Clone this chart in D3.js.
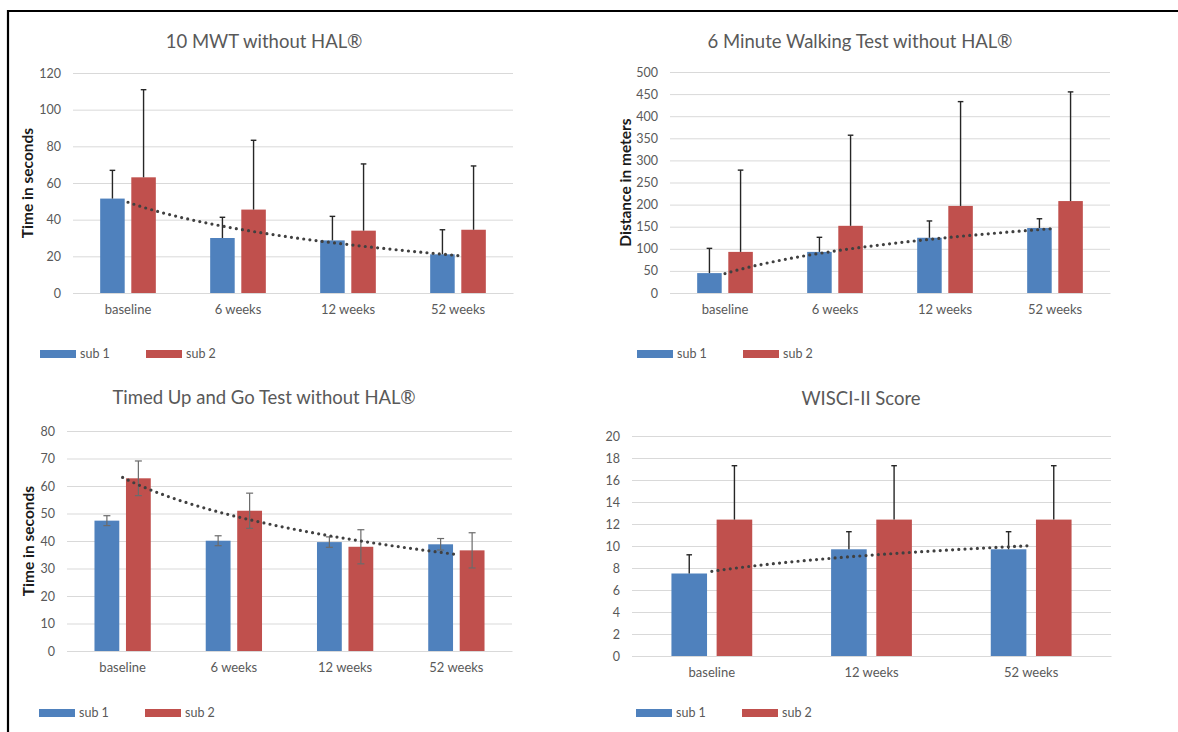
<!DOCTYPE html>
<html>
<head>
<meta charset="utf-8">
<script src="https://cdn.jsdelivr.net/npm/d3@7"></script>
<style>
  body { margin: 0; background: #fff; }
  svg text { font-family: Lato, "Noto Sans", sans-serif; }
</style>
</head>
<body>
<svg id="chart" width="1178" height="732"></svg>
<script>
// series names and colours
const subjects = ["sub 1", "sub 2"];
const colors = ["#4f81bd", "#c0504d"];

// 10 MWT without HAL
const mwtCategories = ["baseline", "6 weeks", "12 weeks", "52 weeks"];
const mwtSub1 = [51.5, 30, 28.7, 21.1];
const mwtSub2 = [63.1, 45.5, 34, 34.5];
const mwtSub1Err = [15.4, 11.3, 13.1, 13.4];
const mwtSub2Err = [47.8, 37.8, 36.4, 34.8];

// 6 minute walking test without HAL
const walkCategories = ["baseline", "6 weeks", "12 weeks", "52 weeks"];
const walkSub1 = [45, 93, 125, 147];
const walkSub2 = [93, 152, 197, 208];
const walkSub1Err = [56, 33, 38, 21];
const walkSub2Err = [185, 205, 236, 247];

// timed up and go without HAL
const tugCategories = ["baseline", "6 weeks", "12 weeks", "52 weeks"];
const tugSub1 = [47.4, 40.1, 39.6, 38.8];
const tugSub2 = [62.8, 51.0, 37.9, 36.6];
const tugSub1Err = [1.8, 1.8, 1.9, 2.1];
const tugSub2Err = [6.3, 6.4, 6.2, 6.4];

// WISCI-II score
const wisciCategories = ["baseline", "12 weeks", "52 weeks"];
const wisciSub1 = [7.5, 9.7, 9.7];
const wisciSub2 = [12.4, 12.4, 12.4];
const wisciSub1Err = [1.7, 1.6, 1.6];
const wisciSub2Err = [4.9, 4.9, 4.9];

let svg = d3.select("#chart");

// frame of the figure
svg.append("path")
  .attr("d", "M8,732 L8,11 L1178,11")
  .attr("fill", "none")
  .attr("stroke", "#000")
  .attr("stroke-width", 2.2);

// least squares fit y = a + b ln(x), like the Excel log trendline
function logFit(values) {
  let xs = values.map((v, i) => Math.log(i + 1));
  let mx = d3.mean(xs), my = d3.mean(values);
  let b = d3.sum(xs, (l, i) => (l - mx) * (values[i] - my)) / d3.sum(xs, l => (l - mx) * (l - mx));
  let a = my - b * mx;
  return t => a + b * Math.log(t);
}

function drawPanel(opt) {
  let g = svg.append("g");

  let x = d3.scaleBand().domain(opt.categories).range([opt.left, opt.right]);
  let y = d3.scaleLinear().domain([0, opt.max]).range([opt.bottom, opt.top]);
  let bw = x.bandwidth();
  let inner = d3.scaleBand().domain(subjects)
    .range([-0.253 * bw, 0.253 * bw]).paddingInner(0.212);

  // title
  g.append("text")
    .attr("x", opt.titleX)
    .attr("y", opt.titleY)
    .attr("text-anchor", "middle")
    .attr("font-size", 18.5)
    .attr("fill", "#595959")
    .text(opt.title);

  // gridlines and tick labels
  let yAxis = g.append("g")
    .attr("transform", "translate(" + opt.left + ",0)")
    .call(d3.axisLeft(y).tickValues(d3.range(0, opt.max + opt.step / 2, opt.step))
      .tickSize(-(opt.right - opt.left)).tickPadding(12));
  yAxis.select(".domain").remove();
  yAxis.selectAll(".tick line").attr("stroke", "#d9d9d9").attr("stroke-width", 1);
  yAxis.selectAll(".tick text")
    .attr("font-family", "Lato, 'Noto Sans', sans-serif")
    .attr("font-size", 12.5)
    .attr("fill", "#595959");

  // category labels
  let xAxis = g.append("g")
    .attr("transform", "translate(0," + opt.bottom + ")")
    .call(d3.axisBottom(x).tickSize(0).tickPadding(12));
  xAxis.select(".domain").attr("stroke", "#d9d9d9");
  xAxis.selectAll(".tick text")
    .attr("font-family", "Lato, 'Noto Sans', sans-serif")
    .attr("font-size", 13)
    .attr("fill", "#595959");

  // axis title
  if (opt.yLabel) {
    g.append("text")
      .attr("transform", "translate(" + opt.yLabelX + "," + (opt.top + opt.bottom) / 2 + ") rotate(-90)")
      .attr("text-anchor", "middle")
      .attr("dy", "0.35em")
      .attr("font-size", 15.5)
      .attr("font-weight", "bold")
      .attr("fill", "#1a1a1a")
      .text(opt.yLabel);
  }

  let series = [opt.sub1, opt.sub2];
  let errs = [opt.sub1Err, opt.sub2Err];

  // bars
  series.forEach(function(vals, s) {
    g.selectAll(".bar" + s)
      .data(vals)
      .enter()
      .append("rect")
      .attr("x", (d, i) => x(opt.categories[i]) + bw / 2 + inner(subjects[s]))
      .attr("width", inner.bandwidth())
      .attr("y", d => y(d))
      .attr("height", d => y(0) - y(d))
      .attr("fill", colors[s]);
  });

  // error bars
  let cap = opt.both ? 3.5 : 2.8;
  series.forEach(function(vals, s) {
    vals.forEach(function(v, i) {
      let cx = x(opt.categories[i]) + bw / 2 + inner(subjects[s]) + inner.bandwidth() / 2;
      let hi = y(v + errs[s][i]);
      let lo = opt.both ? y(v - errs[s][i]) : y(v);
      let col = opt.both ? "#6b6b6b" : "#262626";
      let w = opt.both ? 1.2 : 1.4;
      g.append("line").attr("x1", cx).attr("x2", cx).attr("y1", hi).attr("y2", lo)
        .attr("stroke", col).attr("stroke-width", w);
      g.append("line").attr("x1", cx - cap).attr("x2", cx + cap).attr("y1", hi).attr("y2", hi)
        .attr("stroke", col).attr("stroke-width", w);
      if (opt.both) {
        g.append("line").attr("x1", cx - cap).attr("x2", cx + cap).attr("y1", lo).attr("y2", lo)
          .attr("stroke", col).attr("stroke-width", w);
      }
    });
  });

  // logarithmic trendline of one series
  let fit = logFit(series[opt.trend]);
  let n = opt.categories.length;
  let x0 = x(opt.categories[0]) + bw / 2;
  let ts = d3.range(1, n + 0.001, 0.05);
  g.append("path")
    .datum(ts)
    .attr("fill", "none")
    .attr("stroke", "#404040")
    .attr("stroke-width", 3.2)
    .attr("stroke-linecap", "round")
    .attr("stroke-dasharray", "0 6.2")
    .attr("d", d3.line().x(t => x0 + (t - 1) * bw).y(t => y(fit(t))));

  // legend
  subjects.forEach(function(name, s) {
    let lx = opt.legendX + s * 106;
    g.append("rect")
      .attr("x", lx).attr("y", opt.legendY - 4)
      .attr("width", 36).attr("height", 8)
      .attr("fill", colors[s]);
    g.append("text")
      .attr("x", lx + 40).attr("y", opt.legendY)
      .attr("dy", "0.35em")
      .attr("font-size", 12.5)
      .attr("fill", "#595959")
      .text(name);
  });
}

drawPanel({
  title: "10 MWT without HAL®", titleX: 264, titleY: 48,
  categories: mwtCategories, sub1: mwtSub1, sub2: mwtSub2,
  sub1Err: mwtSub1Err, sub2Err: mwtSub2Err, both: false, trend: 0,
  max: 120, step: 20, left: 73, right: 513, top: 73, bottom: 293,
  yLabel: "Time in seconds", yLabelX: 28, legendX: 40, legendY: 354
});

drawPanel({
  title: "6 Minute Walking Test without HAL®", titleX: 860, titleY: 48,
  categories: walkCategories, sub1: walkSub1, sub2: walkSub2,
  sub1Err: walkSub1Err, sub2Err: walkSub2Err, both: false, trend: 0,
  max: 500, step: 50, left: 670, right: 1110, top: 72, bottom: 293,
  yLabel: "Distance  in meters", yLabelX: 626, legendX: 637, legendY: 354
});

drawPanel({
  title: "Timed Up and Go Test without HAL®", titleX: 264, titleY: 404,
  categories: tugCategories, sub1: tugSub1, sub2: tugSub2,
  sub1Err: tugSub1Err, sub2Err: tugSub2Err, both: true, trend: 1,
  max: 80, step: 10, left: 67, right: 512, top: 431, bottom: 651,
  yLabel: "Time in seconds", yLabelX: 29, legendX: 39, legendY: 713
});

drawPanel({
  title: "WISCI-II Score", titleX: 861, titleY: 405,
  categories: wisciCategories, sub1: wisciSub1, sub2: wisciSub2,
  sub1Err: wisciSub1Err, sub2Err: wisciSub2Err, both: false, trend: 0,
  max: 20, step: 2, left: 632, right: 1111, top: 436, bottom: 656,
  yLabel: null, legendX: 636, legendY: 713
});
</script>
</body>
</html>
